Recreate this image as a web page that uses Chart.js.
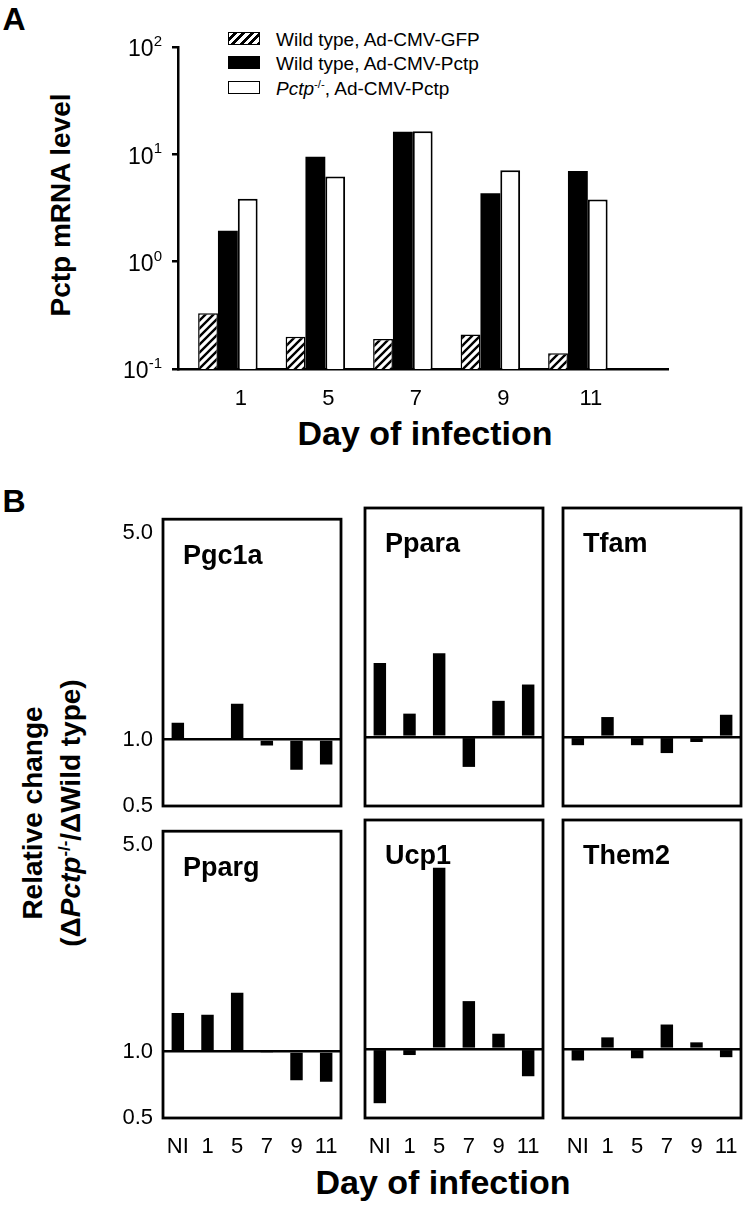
<!DOCTYPE html>
<html>
<head>
<meta charset="utf-8">
<script src="https://cdn.jsdelivr.net/npm/chart.js@4.4.1/dist/chart.umd.min.js"></script>
<style>
  html, body { margin: 0; padding: 0; background: #fff; }
  body { width: 747px; height: 1208px; position: relative; overflow: hidden;
         font-family: "Liberation Sans", Arial, sans-serif; color: #000; }
  canvas { position: absolute; }
  .c { position: absolute; transform: translate(-50%, -50%); white-space: nowrap; line-height: 1; }
  .rot { transform: translate(-50%, -50%) rotate(-90deg); }
  .b { font-weight: bold; }
  .item { position: absolute; left: 228px; height: 24px; line-height: 24px; font-size: 19px; white-space: nowrap; }
  .sw { display: inline-block; width: 30px; height: 11px; border: 1.5px solid #000; vertical-align: middle;
        margin-right: 16px; position: relative; top: -2px; }
  .hatch { background: repeating-linear-gradient(135deg, #fff 0 3px, #000 3px 6px); }
  .fill { background: #000; }
  sup { font-size: 60%; line-height: 0; }
</style>
</head>
<body>
<div class="c b" style="left:14px; top:19px; font-size:32px;">A</div>
<div class="c b" style="left:14px; top:501px; font-size:32px;">B</div>

<div class="item" style="top:28px;"><span class="sw hatch"></span>Wild type, Ad-CMV-GFP</div>
<div class="item" style="top:52px;"><span class="sw fill"></span>Wild type, Ad-CMV-Pctp</div>
<div class="item" style="top:77px;"><span class="sw"></span><i>Pctp</i><sup>-/-</sup>, Ad-CMV-Pctp</div>

<div class="c b rot" style="left:61px; top:205px; font-size:28px;">Pctp mRNA level</div>
<div class="c b" style="left:425px; top:433px; font-size:34px;">Day of infection</div>

<div class="c b rot" style="left:33px; top:813px; font-size:28px;">Relative change</div>
<div class="c b rot" style="left:71px; top:813px; font-size:28px;">(&Delta;<i>Pctp</i><sup>-/-</sup>/&Delta;Wild type)</div>
<div class="c b" style="left:443px; top:1182px; font-size:34px;">Day of infection</div>

<canvas id="chartA" width="747" height="460" style="left:0; top:0;"></canvas>
<canvas id="pgc1a" width="256" height="360" style="left:93px; top:496px;"></canvas>
<canvas id="ppara" width="256" height="360" style="left:295px; top:496px;"></canvas>
<canvas id="tfam" width="256" height="360" style="left:493px; top:496px;"></canvas>
<canvas id="pparg" width="256" height="360" style="left:93px; top:808px;"></canvas>
<canvas id="ucp1" width="256" height="360" style="left:295px; top:808px;"></canvas>
<canvas id="them2" width="256" height="360" style="left:493px; top:808px;"></canvas>

<script>
"use strict";

// panel A
const days = ['1', '5', '7', '9', '11'];
const gfpWT = [0.33, 0.20, 0.19, 0.21, 0.14];
const pctpWT = [1.94, 9.5, 16.2, 4.35, 7.0];
const pctpKO = [3.85, 6.2, 16.4, 7.1, 3.8];
const decadeTicks = [0.1, 1, 10, 100];

// panel B
const geneDays = ['NI', '1', '5', '7', '9', '11'];
const pgc1a = [1.14, 1.0, 1.32, 0.94, 0.73, 0.77];
const ppara = [1.74, 1.19, 1.87, 0.74, 1.31, 1.48];
const tfam = [0.92, 1.16, 0.92, 0.85, 0.95, 1.18];
const pparg = [1.35, 1.33, 1.58, 0.99, 0.74, 0.73];
const ucp1 = [0.58, 0.94, 3.88, 1.43, 1.12, 0.76];
const them2 = [0.89, 1.09, 0.91, 1.20, 1.05, 0.92];
const relTicks = [0.5, 1, 5];

const FONT = '"Liberation Sans", Arial, sans-serif';
Chart.defaults.font.family = FONT;
Chart.defaults.color = '#000';

// the B panels use a log axis whose two halves (0.5-1 and 1-5) are stretched differently
const lowFrac = 0.232;
const fiveFrac = 0.953;
class SplitLogScale extends Chart.LinearScale {
    getPixelForValue(v) {
        let f;
        if (v <= 1) f = lowFrac * Math.log(v / 0.5) / Math.LN2;
        else f = lowFrac + (fiveFrac - lowFrac) * Math.log(v) / Math.log(5);
        return this.getPixelForDecimal(f);
    }
    getValueForPixel(p) {
        const f = this.getDecimalForPixel(p);
        if (f <= lowFrac) return 0.5 * Math.pow(2, f / lowFrac);
        return Math.pow(5, (f - lowFrac) / (fiveFrac - lowFrac));
    }
}
SplitLogScale.id = 'splitlog';
SplitLogScale.defaults = {};
Chart.register(SplitLogScale);

function hatch() {
    const c = document.createElement('canvas');
    c.width = 8; c.height = 8;
    const g = c.getContext('2d');
    g.fillStyle = '#fff';
    g.fillRect(0, 0, 8, 8);
    g.strokeStyle = '#000';
    g.lineWidth = 2.4;
    g.beginPath();
    g.moveTo(-1, 9); g.lineTo(9, -1);
    g.moveTo(-1, 1); g.lineTo(1, -1);
    g.moveTo(7, 9); g.lineTo(9, 7);
    g.stroke();
    return g.createPattern(c, 'repeat');
}

// 10^n labels on the log axis
const powerLabels = {
    id: 'powerLabels',
    afterDraw(chart) {
        const s = chart.scales.y;
        const g = chart.ctx;
        g.save();
        g.fillStyle = '#000';
        g.textBaseline = 'middle';
        g.textAlign = 'left';
        s.ticks.forEach(t => {
            const py = s.getPixelForValue(t.value) + 3;
            const exp = String(Math.round(Math.log10(t.value)));
            g.font = '15px ' + FONT;
            const ew = g.measureText(exp).width;
            g.font = '23px ' + FONT;
            const bw = g.measureText('10').width;
            const right = s.right - 16;
            g.fillText('10', right - ew - bw, py);
            g.font = '15px ' + FONT;
            g.fillText(exp, right - ew, py - 8);
        });
        g.restore();
    }
};

function xy(vals) {
    return vals.map((v, i) => ({x: i, y: v}));
}

new Chart(document.getElementById('chartA'), {
    type: 'bar',
    data: {
        datasets: [
            {label: 'Wild type, Ad-CMV-GFP', data: xy(gfpWT), backgroundColor: hatch(), borderColor: '#000', borderWidth: 1.5},
            {label: 'Wild type, Ad-CMV-Pctp', data: xy(pctpWT), backgroundColor: '#000', borderColor: '#000', borderWidth: 0},
            {label: 'Pctp-/-, Ad-CMV-Pctp', data: xy(pctpKO), backgroundColor: '#fff', borderColor: '#000', borderWidth: 2}
        ]
    },
    options: {
        responsive: false,
        animation: false,
        devicePixelRatio: 1,
        layout: {padding: {top: 47, right: 79, left: 0, bottom: 0}},
        plugins: {legend: {display: false}, tooltip: {enabled: false}},
        datasets: {bar: {categoryPercentage: 0.68, barPercentage: 1}},
        scales: {
            x: {
                type: 'linear', min: -0.57, max: 5.03, offset: false,
                grid: {display: false, offset: false},
                border: {color: '#000', width: 2.5},
                afterBuildTicks: s => { s.ticks = days.map((d, i) => ({value: i})); },
                afterFit: s => { s.height = 91; },
                ticks: {
                    callback: v => days[v], font: {size: 22}, color: '#000',
                    padding: 9, labelOffset: 13, autoSkip: false, maxRotation: 0, includeBounds: false
                }
            },
            y: {
                type: 'logarithmic', min: 0.1, max: 100,
                afterBuildTicks: s => { s.ticks = decadeTicks.map(v => ({value: v})); },
                afterFit: s => { s.width = 178; },
                grid: {drawOnChartArea: false, color: '#000', lineWidth: 2.5, tickLength: 6},
                border: {color: '#000', width: 2.5},
                ticks: {callback: () => ''}
            }
        }
    },
    plugins: [powerLabels]
});

const frame = {
    id: 'frame',
    afterDatasetsDraw(chart, args, opts) {
        const a = chart.chartArea;
        const g = chart.ctx;
        g.save();
        g.lineWidth = 2.8;
        g.strokeStyle = '#000';
        g.strokeRect(a.left, a.top, a.right - a.left, a.bottom - a.top);
        g.font = 'bold 27px ' + FONT;
        g.fillStyle = '#000';
        g.textBaseline = 'middle';
        g.fillText(opts.text, a.left + 20, a.top + 37);
        g.restore();
    }
};

const panels = [
    {id: 'pgc1a', name: 'Pgc1a', values: pgc1a, showY: true, showX: false},
    {id: 'ppara', name: 'Ppara', values: ppara, showY: false, showX: false},
    {id: 'tfam', name: 'Tfam', values: tfam, showY: false, showX: false},
    {id: 'pparg', name: 'Pparg', values: pparg, showY: true, showX: true},
    {id: 'ucp1', name: 'Ucp1', values: ucp1, showY: false, showX: true},
    {id: 'them2', name: 'Them2', values: them2, showY: false, showX: true}
];

const relMax = Math.pow(5, (1 - lowFrac) / (fiveFrac - lowFrac));

panels.forEach(p => {
    new Chart(document.getElementById(p.id), {
        type: 'bar',
        data: {
            labels: geneDays,
            datasets: [{
                label: p.name, data: p.values, base: 1,
                backgroundColor: '#000', borderWidth: 0,
                categoryPercentage: 1, barPercentage: 0.42
            }]
        },
        options: {
            responsive: false,
            animation: false,
            devicePixelRatio: 1,
            layout: {padding: {top: 12, right: 8, left: 0, bottom: 0}},
            plugins: {legend: {display: false}, tooltip: {enabled: false}, frame: {text: p.name}},
            scales: {
                x: {
                    type: 'category', offset: true,
                    grid: {display: false},
                    border: {display: false},
                    afterFit: s => { s.height = 50; },
                    ticks: {display: p.showX, font: {size: 22}, color: '#000', padding: 8, autoSkip: false, maxRotation: 0}
                },
                y: {
                    type: 'splitlog', min: 0.5, max: relMax,
                    afterBuildTicks: s => { s.ticks = relTicks.map(v => ({value: v})); },
                    afterFit: s => { s.width = 70; },
                    border: {display: false},
                    grid: {
                        drawTicks: false, lineWidth: 2.5,
                        color: c => (c.tick && c.tick.value === 1 ? '#000' : 'rgba(0,0,0,0)')
                    },
                    ticks: {display: p.showY, callback: v => Number(v).toFixed(1), font: {size: 22}, color: '#000', padding: 10}
                }
            }
        },
        plugins: [frame]
    });
});
</script>
</body>
</html>
